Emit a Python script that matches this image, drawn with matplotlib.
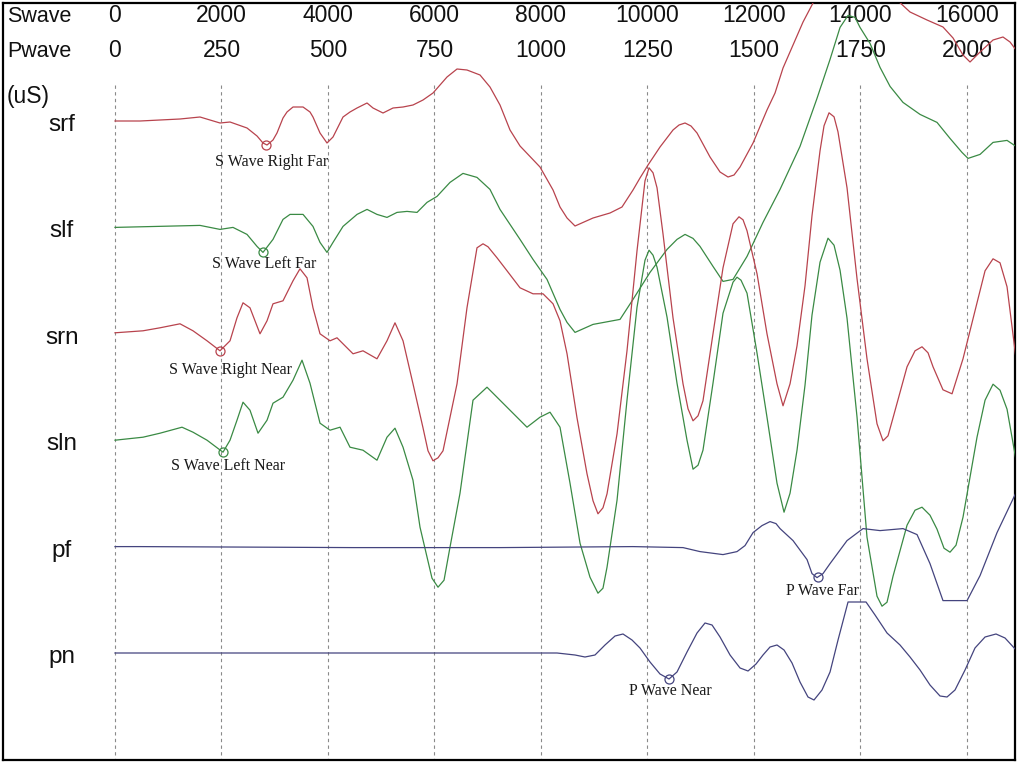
import numpy as np
import matplotlib.pyplot as plt

# traces, top to bottom
names = ["srf", "slf", "srn", "sln", "pf", "pn"]

# time axis (S wave, us) and tick labels of both header rows
swave_ticks = [0, 2000, 4000, 6000, 8000, 10000, 12000, 14000, 16000]
pwave_ticks = [0, 250, 500, 750, 1000, 1250, 1500, 1750, 2000]

# sampled waveforms: (time us, amplitude), amplitude positive = up
srf = [(0, 0), (470, 0), (845, 1), (1221, 2), (1596, 4), (1972, -2), (2160, -1), (2479, -7),
       (2667, -15), (2779, -22), (2855, -24), (2967, -19), (3042, -12), (3155, 3), (3230, 9),
       (3343, 14), (3531, 14), (3662, 9), (3718, 4), (3850, -12), (3981, -22), (4094, -16),
       (4282, 4), (4413, 9), (4545, 13), (4733, 18), (4845, 13), (5033, 8), (5221, 13),
       (5409, 14), (5596, 16), (5784, 21), (5972, 28), (6235, 44), (6423, 52), (6610, 51),
       (6855, 46), (7042, 34), (7230, 16), (7418, -9), (7606, -25), (7981, -46), (8226, -69),
       (8357, -86), (8489, -97), (8639, -105), (8808, -101), (8977, -97), (9296, -92),
       (9521, -86), (9728, -69), (9859, -57), (10010, -44), (10235, -26), (10479, -9),
       (10592, -4), (10705, -2), (10817, -5), (10930, -12), (11174, -36), (11362, -51),
       (11512, -56), (11625, -54), (11738, -46), (11982, -22), (12244, 11), (12395, 28),
       (12545, 53), (12733, 76), (12921, 99), (13108, 118), (13296, 136), (13991, 181),
       (14555, 136), (14686, 121), (14930, 109), (15249, 101), (15549, 94), (15738, 83),
       (15925, 66), (16057, 59), (16245, 69), (16489, 81), (16676, 84), (16808, 79),
       (16921, 71)]

slf = [(0, 0), (1596, 2), (1972, -2), (2216, 0), (2479, -7), (2667, -19), (2779, -25),
       (2967, -12), (3155, 8), (3287, 13), (3531, 13), (3718, 1), (3850, -15), (3981, -25),
       (4094, -15), (4282, 1), (4545, 13), (4733, 18), (4920, 13), (5108, 10), (5296, 15),
       (5484, 16), (5672, 15), (5859, 25), (6047, 31), (6291, 45), (6535, 54), (6798, 50),
       (7042, 38), (7230, 18), (7606, -12), (7850, -32), (8113, -52), (8357, -82), (8489, -95),
       (8639, -105), (8808, -101), (8977, -97), (9484, -92), (9728, -72), (10047, -45),
       (10367, -22), (10554, -12), (10705, -7), (10855, -11), (10986, -19), (11230, -39),
       (11418, -54), (11606, -52), (11869, -29), (12169, 5), (12489, 38), (12864, 81),
       (13183, 129), (13428, 168), (13616, 200), (13766, 212), (13897, 210), (13991, 200),
       (14179, 184), (14367, 160), (14555, 141), (14798, 125), (15118, 113), (15437, 105),
       (15681, 89), (15906, 75), (16019, 69), (16245, 73), (16489, 85), (16752, 87),
       (16921, 81)]

srn = [(0, 1), (526, 3), (845, 6), (1221, 10), (1465, 3), (1728, -7), (1972, -17), (2160, -7),
       (2291, 16), (2404, 31), (2535, 26), (2723, 0), (2855, 13), (2967, 30), (3155, 33),
       (3343, 53), (3474, 65), (3606, 56), (3718, 26), (3850, 0), (4038, -7), (4169, -4),
       (4357, -14), (4470, -20), (4657, -17), (4920, -25), (5108, -7), (5258, 11), (5409, -7),
       (5596, -50), (5784, -94), (5878, -117), (5972, -127), (6066, -124), (6160, -117),
       (6423, -50), (6610, 26), (6798, 86), (6911, 90), (7005, 87), (7174, 76), (7362, 63),
       (7606, 46), (7850, 40), (8038, 40), (8226, 30), (8357, 13), (8489, -20), (8676, -84),
       (8864, -140), (8977, -167), (9070, -180), (9164, -174), (9240, -160), (9428, -100),
       (9615, -17), (9803, 83), (9953, 153), (10029, 166), (10104, 161), (10179, 146),
       (10291, 100), (10479, 16), (10667, -50), (10761, -75), (10855, -87), (10949, -82),
       (11042, -67), (11230, 0), (11418, 66), (11606, 110), (11718, 117), (11794, 114),
       (11869, 103), (12057, 60), (12244, 0), (12432, -50), (12545, -72), (12677, -50),
       (12808, -12), (12958, 48), (13089, 118), (13240, 183), (13315, 208), (13409, 221),
       (13503, 217), (13577, 202), (13747, 146), (13935, 55), (14122, -25), (14310, -90),
       (14423, -107), (14517, -102), (14611, -84), (14874, -33), (15024, -17), (15155, -13),
       (15268, -19), (15362, -33), (15549, -56), (15719, -60), (15925, -25), (16188, 31),
       (16339, 63), (16489, 75), (16620, 71), (16752, 47), (16921, -25)]

sln = [(0, 0), (526, 3), (845, 7), (1258, 13), (1465, 8), (1728, 0), (2028, -12), (2160, 0),
       (2291, 20), (2404, 38), (2535, 30), (2686, 7), (2855, 20), (2967, 37), (3155, 43),
       (3343, 60), (3512, 80), (3662, 57), (3850, 17), (4038, 10), (4226, 13), (4413, -7),
       (4657, -10), (4920, -20), (5108, 3), (5258, 12), (5409, -7), (5596, -40), (5728, -87),
       (5953, -138), (6066, -147), (6179, -140), (6291, -107), (6479, -53), (6723, 40),
       (6986, 53), (7230, 40), (7737, 13), (7981, 23), (8169, 28), (8357, 13), (8545, -43),
       (8733, -103), (8920, -137), (9070, -153), (9164, -148), (9240, -127), (9428, -60),
       (9615, 40), (9803, 133), (9953, 180), (10029, 190), (10104, 185), (10179, 173),
       (10367, 123), (10554, 57), (10742, 0), (10855, -29), (10949, -25), (11042, -10),
       (11230, 57), (11418, 127), (11606, 158), (11681, 163), (11756, 160), (11869, 147),
       (12057, 87), (12244, 23), (12432, -43), (12564, -72), (12677, -53), (12808, -10),
       (12958, 55), (13089, 125), (13240, 178), (13390, 202), (13503, 195), (13616, 170),
       (13747, 122), (13935, 23), (14122, -97), (14310, -156), (14404, -166), (14498, -162),
       (14611, -136), (14874, -85), (15024, -70), (15155, -67), (15305, -75), (15437, -89),
       (15568, -108), (15681, -112), (15794, -105), (15925, -77), (16188, 3), (16339, 40),
       (16489, 56), (16620, 50), (16752, 31), (16921, -20)]

pf = [(0, 0), (470, 0), (4470, -1), (7230, -1), (9728, 0), (10667, -1), (10986, -5),
      (11418, -8), (11681, -5), (11831, 1), (11982, 14), (12150, 21), (12301, 25), (12413, 23),
      (12489, 18), (12733, 6), (12996, -13), (13089, -27), (13183, -31), (13296, -27),
      (13428, -17), (13747, 6), (14047, 18), (14367, 16), (14798, 18), (15062, 12),
      (15305, -17), (15549, -54), (16001, -54), (16245, -29), (16564, 14), (16921, 54)]

pn = [(0, 0), (5596, 0), (8301, 0), (8639, -2), (8826, -4), (9014, -2), (9202, 8), (9390, 17),
      (9540, 19), (9709, 13), (9859, 5), (10047, -9), (10235, -21), (10404, -26), (10554, -19),
      (10742, 1), (10930, 20), (11080, 30), (11212, 28), (11362, 16), (11550, -2),
      (11738, -15), (11888, -18), (12038, -11), (12169, -2), (12301, 6), (12432, 8),
      (12564, 3), (12714, -10), (12864, -29), (13014, -44), (13127, -47), (13277, -37),
      (13428, -19), (13578, 13), (13766, 51), (14104, 51), (14273, 38), (14498, 20),
      (14742, 8), (14930, -4), (15118, -17), (15305, -32), (15493, -43), (15625, -44),
      (15775, -37), (15963, -17), (16150, 5), (16339, 16), (16545, 19), (16714, 15),
      (16921, 3)]

# picked arrivals: time (us) on each trace and its caption
pick_times = [2836, 2779, 1972, 2028, 13202, 10404]
pick_labels = ["S Wave Right Far", "S Wave Left Far", "S Wave Right Near",
               "S Wave Left Near", "P Wave Far", "P Wave Near"]

traces = [srf, slf, srn, sln, pf, pn]
colors = ["#b8434d", "#3a8a44", "#b8434d", "#3a8a44", "#44447e", "#44447e"]

# rows measured downward, one trace every 106.4 rows starting at 121
offsets = [121 + i * 106.4 for i in range(len(names))]
us_per_px = 2000 / 106.5

fig = plt.figure(figsize=(10.17, 7.62), dpi=100)
ax = fig.add_axes([3 / 1017, 2 / 762, 1012 / 1017, 757 / 762])
ax.set_xlim(-112 * us_per_px, 900 * us_per_px)
ax.set_ylim(760, 3)
ax.set_xticks([])
ax.set_yticks([])
for s in ax.spines.values():
    s.set_linewidth(1.6)
    s.set_color("black")

# dashed time grid
ax.vlines(swave_ticks, 85, 760, colors="#8a8a8a", linestyles=(0, (3, 3)), lw=0.8, zorder=1)

# header rows
hdr = dict(family="Liberation Sans", fontsize=15.5, color="#111111")
num = dict(family="Liberation Sans", fontsize=16.5, color="#111111")
x_left = -108 * us_per_px
ax.text(x_left, 22, "Swave", ha="left", va="baseline", **hdr)
ax.text(x_left, 57, "Pwave", ha="left", va="baseline", **hdr)
ax.text(x_left, 103, "(uS)", ha="left", va="baseline", **num)
for t, s_lab, p_lab in zip(swave_ticks, swave_ticks, pwave_ticks):
    ax.text(t, 22, str(s_lab), ha="center", va="baseline", **num)
    ax.text(t, 57, str(p_lab), ha="center", va="baseline", **num)

# waveforms and channel names
for name, tr, c, off in zip(names, traces, colors, offsets):
    t, a = np.array(tr).T
    ax.plot(t, off - a, color=c, lw=0.9, zorder=3)
    ax.text(-53 * us_per_px, off + 10, name, ha="center", va="baseline",
            family="Liberation Sans", fontsize=17.5, color="#111111")

# picks: open circle on the trace plus caption below it
cap_dx = [6, 1, 10, 5, 4, 1]
cap_dy = [18, 12, 19, 14, 14, 12]
for tr, c, off, pt, lab, dx, dy in zip(traces, colors, offsets, pick_times,
                                      pick_labels, cap_dx, cap_dy):
    t, a = np.array(tr).T
    py = off - np.interp(pt, t, a)
    ax.plot(pt, py, "o", mfc="none", mec=c, ms=6.5, mew=0.9, zorder=4)
    ax.text(pt + dx * us_per_px, py + dy, lab, ha="center", va="center",
            family="Liberation Serif", fontsize=11.5, color="#1a1a1a", zorder=5)

fig.savefig("out.png", dpi=100)
